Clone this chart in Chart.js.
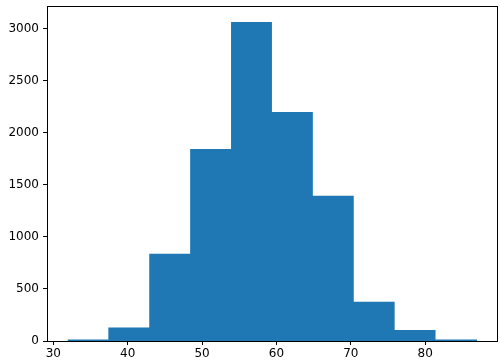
<!DOCTYPE html>
<html>
<head>
<meta charset="utf-8">
<script src="https://cdn.jsdelivr.net/npm/chart.js@4.4.1/dist/chart.umd.min.js"></script>
<style>
  html, body { margin: 0; padding: 0; background: #fff; }
  #wrap { width: 500px; height: 364px; }
</style>
</head>
<body>
<div id="wrap"><canvas id="myChart" width="500" height="364"></canvas></div>
<script>
// bin edges and counts
const binEdges = [31.9, 37.4, 42.9, 48.4, 53.9, 59.4, 64.9, 70.4, 75.9, 81.4, 87.0];
const binCounts = [15, 131, 838, 1847, 3068, 2203, 1396, 377, 105, 15];
const xTicks = [30, 40, 50, 60, 70, 80];
const yTicks = [0, 500, 1000, 1500, 2000, 2500, 3000];

// outline of the histogram as a stepped line, filled down to zero
const histPoints = binCounts.map((c, i) => ({x: binEdges[i], y: c}));
histPoints.push({x: binEdges[binEdges.length - 1], y: binCounts[binCounts.length - 1]});

const frame = {
    id: 'frame',
    afterDraw(chart) {
        const a = chart.chartArea;
        const c = chart.ctx;
        c.save();
        c.strokeStyle = '#000';
        c.lineWidth = 1;
        c.strokeRect(Math.round(a.left) + 0.5, Math.round(a.top) + 0.5,
            Math.round(a.right - a.left) - 1, Math.round(a.bottom - a.top));
        c.restore();
    }
};

const tickFont = {family: 'DejaVu Sans', size: 12};

new Chart(document.getElementById('myChart'), {
    type: 'line',
    data: {
        datasets: [{
            data: histPoints,
            stepped: 'before',
            fill: 'origin',
            borderWidth: 0,
            borderColor: '#1f77b4',
            backgroundColor: '#1f77b4',
            pointRadius: 0
        }]
    },
    options: {
        responsive: false,
        animation: false,
        layout: {padding: {top: 6, right: 2, left: 0, bottom: 0}},
        plugins: {legend: {display: false}, tooltip: {enabled: false}},
        scales: {
            x: {
                type: 'linear',
                min: 29.15,
                max: 89.8,
                afterBuildTicks: s => { s.ticks = xTicks.map(v => ({value: v})); },
                afterFit: s => { s.height = 23; },
                grid: {display: true, drawOnChartArea: false, drawTicks: true, tickLength: 4, color: '#000'},
                border: {display: false},
                ticks: {font: tickFont, color: '#000', padding: 2, maxRotation: 0}
            },
            y: {
                type: 'linear',
                min: 0,
                max: 3221,
                afterBuildTicks: s => { s.ticks = yTicks.map(v => ({value: v})); },
                afterFit: s => { s.width = 47; s.paddingTop = 0; s.paddingBottom = 0; },
                grid: {display: true, drawOnChartArea: false, drawTicks: true, tickLength: 4, color: '#000'},
                border: {display: false},
                ticks: {font: tickFont, color: '#000', padding: 4, callback: v => String(v)}
            }
        }
    },
    plugins: [frame]
});
</script>
</body>
</html>
